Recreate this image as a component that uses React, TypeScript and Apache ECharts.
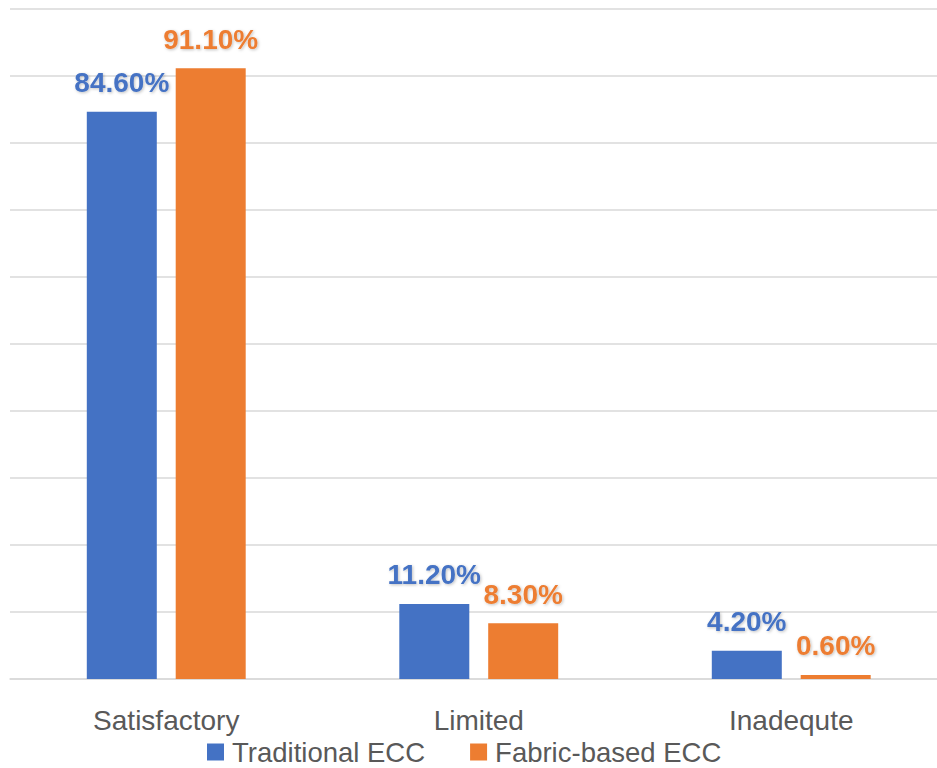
import React, { useEffect, useRef } from "react";
import * as echarts from "echarts";

const categories = ["Satisfactory", "Limited", "Inadequte"];
const seriesNames = ["Traditional ECC", "Fabric-based ECC"];
const traditional = [84.6, 11.2, 4.2];
const fabric = [91.1, 8.3, 0.6];
const colors = ["#4472C4", "#ED7D31"];

export default function App() {
  const ref = useRef<HTMLDivElement>(null);
  useEffect(() => {
    if (!ref.current) return;
    const chart = echarts.init(ref.current, undefined, { renderer: "svg" });
    const font = "'Liberation Sans', Arial, sans-serif";
    const mkLabel = (color: string) => ({
      show: true,
      position: "top",
      distance: 15,
      color,
      fontFamily: font,
      fontWeight: "bold",
      fontSize: 28,
      textShadowColor: "rgba(0,0,0,0.25)",
      textShadowBlur: 3,
      textShadowOffsetX: 1,
      textShadowOffsetY: 1,
      formatter: (p: any) => Number(p.value).toFixed(2) + "%",
    });
    chart.setOption({
      animation: false,
      backgroundColor: "#ffffff",
      grid: {
        left: 10,
        width: 937.5,
        top: 8.5,
        bottom: 89,
        containLabel: false,
        outerBoundsMode: "none",
      },
      legend: {
        data: seriesNames,
        bottom: 2,
        left: 207,
        padding: 0,
        icon: "rect",
        itemWidth: 17,
        itemHeight: 17,
        itemGap: 45,
        textStyle: {
          fontFamily: font,
          fontSize: 27.5,
          color: "#595959",
          padding: [0, 0, 0, 3],
        },
      },
      xAxis: {
        type: "category",
        data: categories,
        axisLine: { show: true, lineStyle: { color: "#d9d9d9", width: 1.5 } },
        axisTick: { show: false },
        axisLabel: {
          margin: 27,
          fontFamily: font,
          fontSize: 28,
          color: "#595959",
        },
      },
      yAxis: {
        type: "value",
        min: 0,
        max: 100,
        interval: 10,
        axisLabel: { show: false },
        axisLine: { show: false },
        axisTick: { show: false },
        splitLine: { lineStyle: { color: "#d9d9d9", width: 1.5 } },
      },
      series: [
        {
          name: seriesNames[0],
          type: "bar",
          data: traditional,
          barWidth: 70,
          barGap: "27%",
          itemStyle: { color: colors[0] },
          label: mkLabel(colors[0]),
        },
        {
          name: seriesNames[1],
          type: "bar",
          data: fabric,
          barWidth: 70,
          barGap: "27%",
          itemStyle: { color: colors[1] },
          label: mkLabel(colors[1]),
        },
      ],
    });
    return () => chart.dispose();
  }, []);
  return (
    <div
      ref={ref}
      style={{ position: "fixed", left: 0, top: 0, width: 937, height: 768 }}
    />
  );
}
